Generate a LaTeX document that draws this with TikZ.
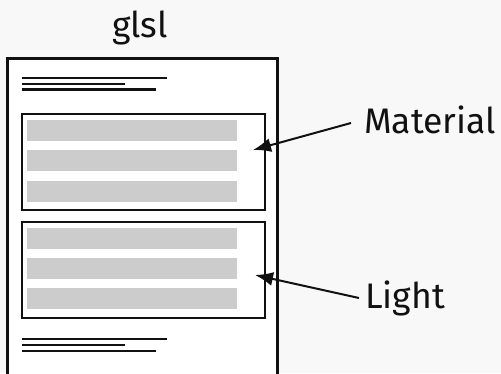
\documentclass[tikz,border=0pt]{standalone}
\usepackage{fontspec}
\setmainfont{Fira Sans}
\usetikzlibrary{arrows.meta}
\definecolor{bg}{HTML}{F8F8F8}
\definecolor{bar}{HTML}{CCCCCC}
\definecolor{ink}{HTML}{111111}
\tikzset{
  txt/.style={font=\fontsize{35.5}{42}\selectfont, text=ink, inner sep=0pt},
  rule/.style={line width=2.4pt, ink},
  section/.style={draw=ink, line width=2pt, fill=white},
  graybar/.style={fill=bar, draw=none},
  pointer/.style={line width=2pt, ink, -{Latex[length=18pt,width=14pt]}},
}
\begin{document}
\begin{tikzpicture}[x=1pt,y=-1pt]
\fill[bg] (0,0) rectangle (501,373);
\useasboundingbox (0,0) rectangle (501,373);
% page
\draw[line width=3.5pt, ink, fill=white] (7.5,380) -- (7.5,58.5) -- (277.5,58.5) -- (277.5,380);
% header lines
\draw[rule] (22,78) -- (167,78);
\draw[rule] (22,84) -- (125,84);
\draw[rule] (22,89.5) -- (156,89.5);
% material
\node[section, minimum width=243pt, minimum height=96pt, anchor=north west] (mat) at (21,113) {};
\foreach \y in {120,150,181} \fill[graybar] (27,\y) rectangle (237,\y+21);
% light
\node[section, minimum width=243pt, minimum height=96pt, anchor=north west] (lig) at (21,221) {};
\foreach \y in {228,258,288} \fill[graybar] (27,\y) rectangle (237,\y+21);
% footer lines
\draw[rule] (22,339) -- (167,339);
\draw[rule] (22,345) -- (125,345);
\draw[rule] (22,351) -- (156,351);
% labels
\node[txt] (glsl) at (140,28) {glsl};
\node[txt, anchor=west] (mtxt) at (364,120) {Material};
\node[txt, anchor=west] (ltxt) at (365,298) {Light};
\coordinate (ma) at (253,150);
\coordinate (la) at (255,275);
\draw[pointer] ([xshift=-13pt,yshift=-3pt]mtxt.west) -- (ma);
\draw[pointer] ([xshift=-6pt]ltxt.west) -- (la);
\end{tikzpicture}
\end{document}
